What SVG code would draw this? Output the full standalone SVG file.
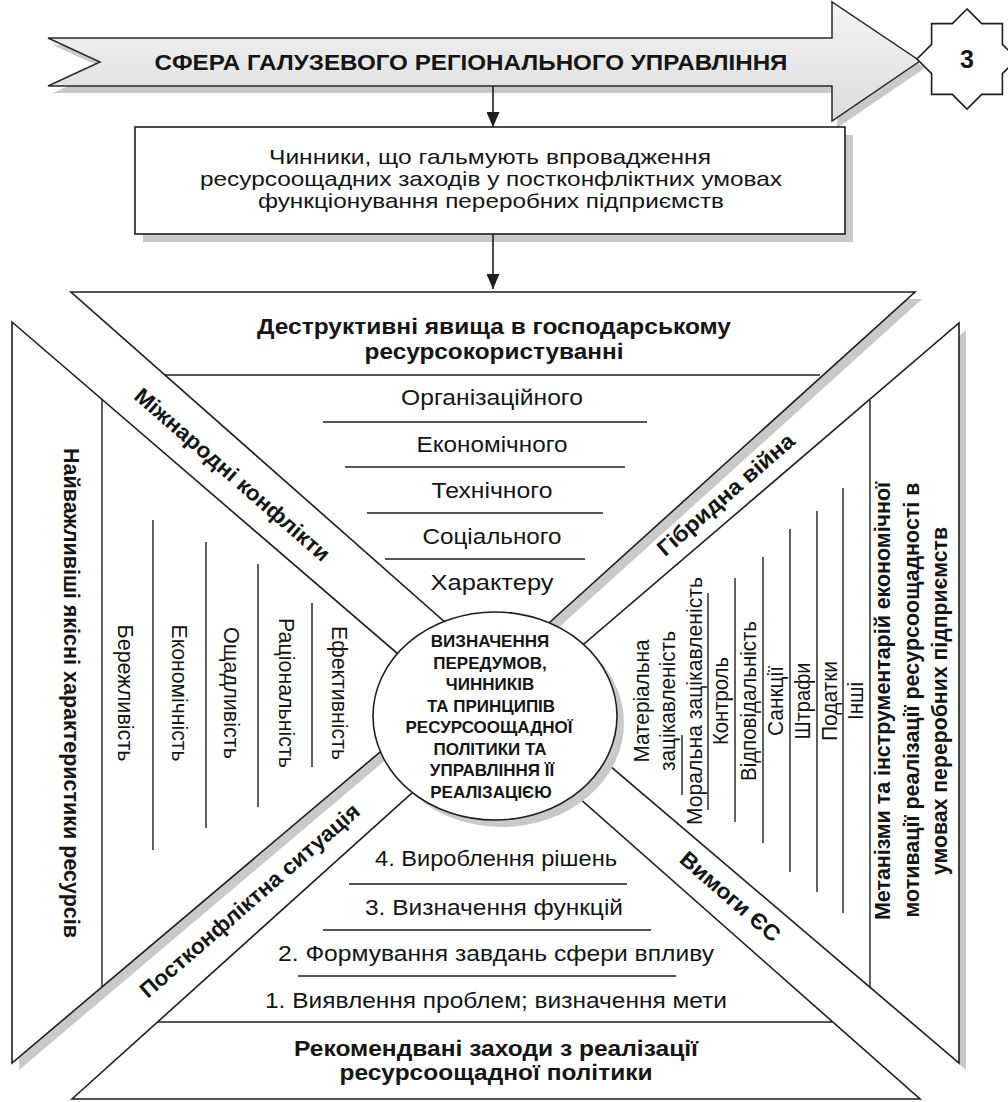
<svg xmlns="http://www.w3.org/2000/svg" width="1008" height="1102" viewBox="0 0 1008 1102">
<style>
.shape{fill:#fff;stroke:#1e1e1e;stroke-width:1.6;stroke-linejoin:miter}
.shadow{fill:#c9c9c9;stroke:none}
.rule{stroke:#1e1e1e;stroke-width:1.4;fill:none}
.conn{stroke:#1e1e1e;stroke-width:1.6;fill:none}
.n{font-family:'Liberation Sans Narrow','Liberation Sans',Arial,sans-serif;font-size:22px;fill:#151515;text-anchor:middle}
.b{font-weight:bold}
.w{font-family:'Liberation Sans',Arial,sans-serif;fill:#151515;text-anchor:middle}
</style>
<defs>
<linearGradient id="gArrow" x1="0" y1="0" x2="0" y2="1">
<stop offset="0" stop-color="#f4f4f4"/>
<stop offset="1" stop-color="#dcdcdc"/>
</linearGradient>
<marker id="ah" viewBox="0 0 10 10" refX="10" refY="5" markerUnits="userSpaceOnUse" markerWidth="15" markerHeight="13" preserveAspectRatio="none" orient="auto">
<path d="M0,0 L10,5 L0,10 Z" fill="#1e1e1e"/>
</marker>
</defs>

<g id="banner">
<path class="shadow" d="M53,45 L837,45 L837,9 L925,68 L837,128 L837,93 L53,93 L105,69 Z"/>
<path d="M48,38 L832,38 L832,2 L920,61 L832,121 L832,86 L48,86 L100,62 Z" fill="url(#gArrow)" stroke="#2a2a2a" stroke-width="1.5"/>
<text class="n b" x="471" y="70" font-size="23" textLength="633" lengthAdjust="spacingAndGlyphs">СФЕРА ГАЛУЗЕВОГО РЕГІОНАЛЬНОГО УПРАВЛІННЯ</text>
</g>

<g id="badge">
<path class="shape" d="M967,9 L952.3,23.6 L931.6,23.6 L931.6,44.3 L917,59 L931.6,73.7 L931.6,94.4 L952.3,94.4 L967,109 L981.7,94.4 L1002.4,94.4 L1002.4,73.7 L1017,59 L1002.4,44.3 L1002.4,23.6 L981.7,23.6 Z"/>
<text class="w b" x="967" y="68" font-size="25">3</text>
</g>

<g id="factors-box">
<rect class="shadow" x="143" y="135" width="710" height="107"/>
<rect class="shape" x="135" y="127" width="710" height="107"/>
<text class="w" x="490" y="164" font-size="21" textLength="442" lengthAdjust="spacingAndGlyphs">Чинники, що гальмують впровадження</text>
<text class="w" x="491" y="186" font-size="21" textLength="582" lengthAdjust="spacingAndGlyphs">ресурсоощадних заходів у постконфліктних умовах</text>
<text class="w" x="491" y="208" font-size="21" textLength="466" lengthAdjust="spacingAndGlyphs">функціонування переробних підприємств</text>
</g>

<g id="connectors">
<line class="conn" x1="493" y1="86" x2="493" y2="127" marker-end="url(#ah)"/>
<line class="conn" x1="493" y1="234" x2="493" y2="289" marker-end="url(#ah)"/>
</g>

<g id="shadows">
<polygon class="shadow" points="78,299 922,299 505,676"/>
<polygon class="shadow" points="19,329 453,703 19,1070"/>
<polygon class="shadow" points="966,330 966,1070 532,701"/>
</g>

<g id="top-sector">
<polygon class="shape" points="71,292 915,292 498,669"/>
<text class="n b" x="494" y="334" font-size="24" textLength="474" lengthAdjust="spacingAndGlyphs">Деструктивні явища в господарському</text>
<text class="n b" x="494" y="359" font-size="24" textLength="259" lengthAdjust="spacingAndGlyphs">ресурсокористуванні</text>
<line class="rule" x1="165" y1="375" x2="820" y2="375"/>
<text class="n" x="492" y="405" textLength="182" lengthAdjust="spacingAndGlyphs">Організаційного</text>
<line class="rule" x1="323" y1="422" x2="647" y2="422"/>
<text class="n" x="492" y="452" textLength="151" lengthAdjust="spacingAndGlyphs">Економічного</text>
<line class="rule" x1="345" y1="467" x2="625" y2="467"/>
<text class="n" x="492" y="498" textLength="121" lengthAdjust="spacingAndGlyphs">Технічного</text>
<line class="rule" x1="367" y1="513" x2="603" y2="513"/>
<text class="n" x="492" y="544" textLength="139" lengthAdjust="spacingAndGlyphs">Соціального</text>
<line class="rule" x1="385" y1="559" x2="585" y2="559"/>
<text class="n" x="492" y="590" textLength="123" lengthAdjust="spacingAndGlyphs">Характеру</text>
</g>

<g id="left-sector">
<polygon class="shape" points="12,322 446.6,695.8 12,1063"/>
<line class="rule" x1="102" y1="399" x2="102" y2="987"/>
<text class="n b" font-size="24" transform="translate(71,693) rotate(90)" y="7" textLength="490" lengthAdjust="spacingAndGlyphs">Найважливіші якісні характеристики ресурсів</text>
<line class="rule" x1="153" y1="520" x2="153" y2="850"/>
<line class="rule" x1="206" y1="542" x2="206" y2="828"/>
<line class="rule" x1="258" y1="564" x2="258" y2="807"/>
<line class="rule" x1="312" y1="603" x2="312" y2="767"/>
<text class="n" transform="translate(125,693) rotate(90)" y="7" textLength="137" lengthAdjust="spacingAndGlyphs">Бережливість</text>
<text class="n" transform="translate(179,693) rotate(90)" y="7" textLength="137" lengthAdjust="spacingAndGlyphs">Економічність</text>
<text class="n" transform="translate(231,693) rotate(90)" y="7" textLength="132" lengthAdjust="spacingAndGlyphs">Ощадливість</text>
<text class="n" transform="translate(286,693) rotate(90)" y="7" textLength="150" lengthAdjust="spacingAndGlyphs">Раціональність</text>
<text class="n" transform="translate(339,693) rotate(90)" y="7" textLength="134" lengthAdjust="spacingAndGlyphs">Ефективність</text>
</g>

<g id="right-sector">
<polygon class="shape" points="959,323 959,1063 525.5,694"/>
<line class="rule" x1="870" y1="400" x2="870" y2="987"/>
<line class="rule" x1="682" y1="735" x2="682" y2="795"/>
<line class="rule" x1="708" y1="593" x2="708" y2="810"/>
<line class="rule" x1="735" y1="578" x2="735" y2="822"/>
<line class="rule" x1="763" y1="557" x2="763" y2="843"/>
<line class="rule" x1="790" y1="529" x2="790" y2="872"/>
<line class="rule" x1="817" y1="511" x2="817" y2="892"/>
<line class="rule" x1="843" y1="488" x2="843" y2="913"/>
<text class="n" font-size="21" transform="translate(642,701) rotate(-90)" y="6.5" textLength="123" lengthAdjust="spacingAndGlyphs">Матеріальна</text>
<text class="n" font-size="21" transform="translate(668,701) rotate(-90)" y="6.5" textLength="140" lengthAdjust="spacingAndGlyphs">зацікавленість</text>
<text class="n" font-size="21" transform="translate(695,701) rotate(-90)" y="6.5" textLength="248" lengthAdjust="spacingAndGlyphs">Моральна зацікавленість</text>
<text class="n" font-size="21" transform="translate(721.5,701) rotate(-90)" y="6.5" textLength="88" lengthAdjust="spacingAndGlyphs">Контроль</text>
<text class="n" font-size="21" transform="translate(749,701) rotate(-90)" y="6.5" textLength="160" lengthAdjust="spacingAndGlyphs">Відповідальність</text>
<text class="n" font-size="21" transform="translate(776.5,701) rotate(-90)" y="6.5" textLength="70" lengthAdjust="spacingAndGlyphs">Санкції</text>
<text class="n" font-size="21" transform="translate(803.5,701) rotate(-90)" y="6.5" textLength="77" lengthAdjust="spacingAndGlyphs">Штрафи</text>
<text class="n" font-size="21" transform="translate(830,701) rotate(-90)" y="6.5" textLength="80" lengthAdjust="spacingAndGlyphs">Податки</text>
<text class="n" font-size="21" transform="translate(856.5,701) rotate(-90)" y="6.5" textLength="38" lengthAdjust="spacingAndGlyphs">Інші</text>
<text class="n b" font-size="23" transform="translate(883,701) rotate(-90)" y="7" textLength="438" lengthAdjust="spacingAndGlyphs">Метанізми та інструментарій економічної</text>
<text class="n b" font-size="23" transform="translate(912,700) rotate(-90)" y="7" textLength="435" lengthAdjust="spacingAndGlyphs">мотивації реалізації ресурсоощадності в</text>
<text class="n b" font-size="23" transform="translate(940,701) rotate(-90)" y="7" textLength="348" lengthAdjust="spacingAndGlyphs">умовах переробних підприємств</text>
</g>

<g id="bottom-sector">
<polygon class="shape" points="72,1099 491.9,721 920,1099"/>
<text class="n" x="496" y="866" textLength="242" lengthAdjust="spacingAndGlyphs">4. Вироблення рішень</text>
<line class="rule" x1="349" y1="884" x2="627" y2="884"/>
<text class="n" x="494" y="915" textLength="258" lengthAdjust="spacingAndGlyphs">3. Визначення функцій</text>
<line class="rule" x1="323" y1="930" x2="651" y2="930"/>
<text class="n" x="496" y="961" textLength="436" lengthAdjust="spacingAndGlyphs">2. Формування завдань сфери впливу</text>
<line class="rule" x1="298" y1="976" x2="676" y2="976"/>
<text class="n" x="496" y="1008" textLength="462" lengthAdjust="spacingAndGlyphs">1. Виявлення проблем; визначення мети</text>
<line class="rule" x1="158" y1="1022" x2="832" y2="1022"/>
<text class="n b" font-size="24" x="496" y="1056" textLength="404" lengthAdjust="spacingAndGlyphs">Рекомендвані заходи з реалізації</text>
<text class="n b" font-size="24" x="496" y="1080" textLength="313" lengthAdjust="spacingAndGlyphs">ресурсоощадної політики</text>
</g>

<g id="band-labels">
<text class="n b" transform="translate(232,475) rotate(41)" y="7" textLength="251" lengthAdjust="spacingAndGlyphs">Міжнародні конфлікти</text>
<text class="n b" transform="translate(726,495) rotate(-41)" y="7" textLength="174" lengthAdjust="spacingAndGlyphs">Гібридна війна</text>
<text class="n b" transform="translate(250,901) rotate(-41)" y="7" textLength="283" lengthAdjust="spacingAndGlyphs">Постконфліктна ситуація</text>
<text class="n b" transform="translate(730,897) rotate(41)" y="7" textLength="125" lengthAdjust="spacingAndGlyphs">Вимоги ЄС</text>
</g>

<g id="center">
<ellipse class="shadow" cx="502" cy="723" rx="122" ry="104"/>
<ellipse class="shape" cx="495" cy="716" rx="122" ry="104"/>
<g class="w b" font-size="17">
<text x="490" y="647">ВИЗНАЧЕННЯ</text>
<text x="490" y="668.5">ПЕРЕДУМОВ,</text>
<text x="490" y="690">ЧИННИКІВ</text>
<text x="491" y="711.5">ТА ПРИНЦИПІВ</text>
<text x="489" y="733">РЕСУРСООЩАДНОЇ</text>
<text x="490" y="754.5">ПОЛІТИКИ ТА</text>
<text x="492" y="776">УПРАВЛІННЯ ЇЇ</text>
<text x="491" y="797.5">РЕАЛІЗАЦІЄЮ</text>
</g>
</g>
</svg>
